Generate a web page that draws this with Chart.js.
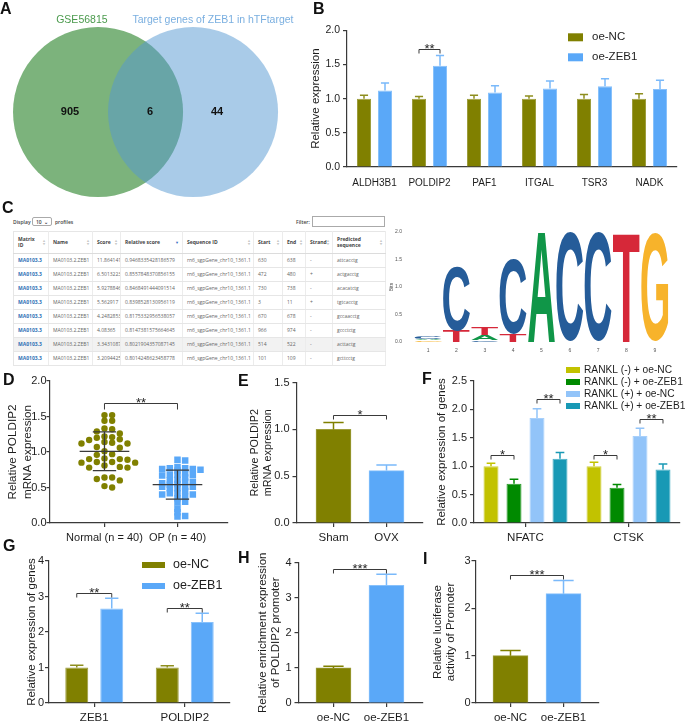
<!DOCTYPE html>
<html>
<head>
<meta charset="utf-8">
<title>ZEB1 / POLDIP2 figure</title>
<script src="https://cdn.jsdelivr.net/npm/chart.js@4.4.1/dist/chart.umd.min.js"></script>
<style>
  body { margin: 0; width: 685px; height: 723px; position: relative; overflow: hidden; background: #fff; font-family: "Liberation Sans", Arial, sans-serif; }
  .panel { position: absolute; }
  .tag { position: absolute; font: bold 16px/16px "Liberation Sans", Arial, sans-serif; color: #111; }
  #tfbar { position: absolute; left: 13px; top: 216px; width: 372px; height: 12px; font: 600 5px/12px "Open Sans", sans-serif; color: #444; }
  #tfbar span { position: absolute; top: 0; }
  #tfbar .sel { top: 1px; height: 9px; width: 20px; border: 1px solid #aaa; border-radius: 2px; line-height: 9px; padding-left: 3px; box-sizing: border-box; }
  #tfbar .inp { top: 0; height: 11px; width: 73px; border: 1px solid #aaa; box-sizing: border-box; }
  #tf { position: absolute; left: 13px; top: 231px; width: 372px; border-collapse: collapse; table-layout: fixed; font: 5px/1.15 "Open Sans", sans-serif; color: #666; border: 1px solid #e6e6e6; }
  #tf th { height: 21px; font-weight: 700; color: #444; text-align: left; padding: 0 0 0 4px; border-right: 1px solid #ececec; border-bottom: 1px solid #dcdcdc; position: relative; vertical-align: middle; }
  #tf td { height: 13px; padding: 0 0 0 4px; border-right: 1px solid #ececec; border-bottom: 1px solid #e6e6e6; white-space: nowrap; overflow: hidden; }
  #tf td.id { color: #2f6fb5; font-weight: 700; }
  #tf tr.hl td { background: #f2f2f2; }
  #tf .srt { position: absolute; right: 3px; top: 7px; font-size: 4px; line-height: 3px; color: #c8c8c8; }
  #tf .srt.on { color: #3b6fc4; top: 9px; }
</style>
</head>
<body>

<div id="tfbar">
  <span style="left:0">Display</span>
  <span class="sel" style="left:19px">10 &nbsp;&#8964;</span>
  <span style="left:42px">profiles</span>
  <span style="left:283px">Filter:</span>
  <span class="inp" style="left:299px"></span>
</div>
<table id="tf"></table>

<script>
// ---------- data ----------

// A  Venn
const vennSets = ['GSE56815', 'Target genes of ZEB1 in hTFtarget'];
const vennCounts = [905, 6, 44];

// B  candidate genes
const bGenes = ['ALDH3B1', 'POLDIP2', 'PAF1', 'ITGAL', 'TSR3', 'NADK'];
const bSeries = ['oe-NC', 'oe-ZEB1'];
const bNC = [1.0, 1.0, 1.0, 1.0, 1.0, 1.0];
const bNCErr = [0.05, 0.03, 0.05, 0.04, 0.06, 0.07];
const bZEB1 = [1.12, 1.48, 1.09, 1.15, 1.18, 1.14];
const bZEB1Err = [0.11, 0.15, 0.10, 0.11, 0.11, 0.13];

// C  JASPAR table
const tfHead = ['Matrix\nID', 'Name', 'Score', 'Relative score', 'Sequence ID', 'Start', 'End', 'Strand', 'Predicted\nsequence'];
const tfMatrix = ['MA0103.3', 'MA0103.3', 'MA0103.3', 'MA0103.3', 'MA0103.3', 'MA0103.3', 'MA0103.3', 'MA0103.3'];
const tfName = ['MA0103.2.ZEB1', 'MA0103.2.ZEB1', 'MA0103.2.ZEB1', 'MA0103.2.ZEB1', 'MA0103.2.ZEB1', 'MA0103.2.ZEB1', 'MA0103.2.ZEB1', 'MA0103.2.ZEB1'];
const tfScore = ['11.864141', '6.5013223', '5.9278846', '5.562917', '4.2482853', '4.08365', '3.3431087', '3.2094425'];
const tfRel = ['0.9468335428186579', '0.8557848370856155', '0.8468491444091514', '0.8398528130956119', '0.8175332956538057', '0.8147381575664645', '0.8021904357087145', '0.8014248623458778'];
const tfSeqId = ['rn6_sgpGene_chr10_1361.1', 'rn6_sgpGene_chr10_1361.1', 'rn6_sgpGene_chr10_1361.1', 'rn6_sgpGene_chr10_1361.1', 'rn6_sgpGene_chr10_1361.1', 'rn6_sgpGene_chr10_1361.1', 'rn6_sgpGene_chr10_1361.1', 'rn6_sgpGene_chr10_1361.1'];
const tfStart = ['630', '472', '730', '3', '670', '966', '514', '101'];
const tfEnd = ['638', '480', '738', '11', '678', '974', '522', '109'];
const tfStrand = ['-', '+', '-', '+', '-', '-', '-', '-'];
const tfPred = ['attcacctg', 'actgacctg', 'acacatctg', 'tgtcacctg', 'gccaacctg', 'gccctctg', 'acttactg', 'gcttcctg'];

// C  motif logo (bits per stacked layer, bottom first)
const logoPos = ['1', '2', '3', '4', '5', '6', '7', '8', '9'];
const logoL1Letters = ['G', 'T', 'C', 'T', 'A', 'C', 'C', 'T', 'G'];
const logoL1Bits = [0.03, 0.20, 0.03, 0.15, 2.00, 1.99, 1.98, 1.98, 1.97];
const logoL2Letters = ['A', 'C', 'A', 'C', '', '', '', '', ''];
const logoL2Bits = [0.03, 1.17, 0.09, 1.36, 0, 0, 0, 0, 0];
const logoL3Letters = ['C', '', 'T', '', '', '', '', '', ''];
const logoL3Bits = [0.05, 0, 0.14, 0, 0, 0, 0, 0, 0];

// D  clinical samples
const dGroups = ['Normal (n = 40)', 'OP (n = 40)'];
const dNormal = [1.52, 1.52, 1.44, 1.44, 1.33, 1.32, 1.29, 1.26, 1.22, 1.21,
                 1.20, 1.18, 1.17, 1.14, 1.13, 1.12, 1.12, 1.07, 1.06, 1.01,
                 0.97, 0.96, 0.91, 0.90, 0.90, 0.89, 0.86, 0.86, 0.85, 0.85,
                 0.81, 0.79, 0.78, 0.78, 0.64, 0.64, 0.62, 0.60, 0.52, 0.50];
const dOP = [0.89, 0.88, 0.79, 0.77, 0.77, 0.76, 0.76, 0.75, 0.74, 0.70,
             0.68, 0.68, 0.68, 0.67, 0.64, 0.61, 0.60, 0.58, 0.58, 0.56,
             0.55, 0.54, 0.51, 0.51, 0.51, 0.49, 0.49, 0.45, 0.42, 0.42,
             0.40, 0.40, 0.37, 0.35, 0.30, 0.29, 0.20, 0.15, 0.10, 0.09];

// E  OVX rats
const eGroups = ['Sham', 'OVX'];
const eMean = [1.0, 0.56];
const eErr = [0.075, 0.06];

// F  osteoclast markers
const fGenes = ['NFATC', 'CTSK'];
const fSeries = ['RANKL (-) + oe-NC', 'RANKL (-) + oe-ZEB1', 'RANKL (+) + oe-NC', 'RANKL (+) + oe-ZEB1'];
const fMinusNC = [1.0, 1.0];
const fMinusNCErr = [0.05, 0.07];
const fMinusZEB1 = [0.69, 0.62];
const fMinusZEB1Err = [0.08, 0.06];
const fPlusNC = [1.85, 1.53];
const fPlusNCErr = [0.16, 0.14];
const fPlusZEB1 = [1.13, 0.94];
const fPlusZEB1Err = [0.11, 0.10];

// G
const gGenes = ['ZEB1', 'POLDIP2'];
const gNC = [1.0, 1.0];
const gNCErr = [0.06, 0.05];
const gZEB1 = [2.66, 2.28];
const gZEB1Err = [0.29, 0.25];

// H  ChIP
const hGroups = ['oe-NC', 'oe-ZEB1'];
const hMean = [1.0, 3.35];
const hErr = [0.05, 0.32];

// I  luciferase
const iGroups = ['oe-NC', 'oe-ZEB1'];
const iMean = [1.0, 2.31];
const iErr = [0.11, 0.28];

// ---------- styles ----------
const INK = '#1e1e1e';
const AX = '#3a3a3a';
const OLIVE = '#808000', OLIVE_EDGE = '#9d9d3c', OLIVE_ERR = '#8e8e1e';
const BLUE = '#5aa8f8', BLUE_EDGE = '#88c1fb', BLUE_ERR = '#7ab9fa';
const F_COL = ['#c2c200', '#008a00', '#92c4f9', '#1899b5'];
const F_EDGE = ['#cfcf40', '#2a9a2a', '#a8d0fb', '#45aec5'];
const LOGO_COL = { A: '#109648', C: '#255c99', G: '#f7b32b', T: '#d62839' };

Chart.defaults.font.family = '"Liberation Sans", Arial, sans-serif';
Chart.defaults.color = INK;
Chart.defaults.animation = false;
Chart.defaults.layout.autoPadding = false;
Chart.defaults.plugins.legend.display = false;
Chart.defaults.plugins.tooltip.enabled = false;

// ---------- plugins ----------
const errorBars = {
  id: 'errorBars',
  afterDatasetsDraw(chart, args, o) {
    const ctx = chart.ctx, y = chart.scales.y;
    chart.data.datasets.forEach((ds, i) => {
      if (!ds.errors) return;
      const meta = chart.getDatasetMeta(i);
      meta.data.forEach((bar, j) => {
        const v = meta.controller.getParsed(j).y;
        const top = y.getPixelForValue(v + ds.errors[j]);
        const half = bar.width * (o.cap || 0.29);
        ctx.save();
        ctx.strokeStyle = Array.isArray(ds.errorColor) ? ds.errorColor[j] : ds.errorColor;
        ctx.lineWidth = o.width || 1.5;
        ctx.beginPath();
        ctx.moveTo(bar.x, bar.y);
        ctx.lineTo(bar.x, top);
        ctx.moveTo(bar.x - half, top);
        ctx.lineTo(bar.x + half, top);
        ctx.stroke();
        ctx.restore();
      });
    });
  }
};

const sigMarks = {
  id: 'sigMarks',
  afterDatasetsDraw(chart, args, o) {
    if (!o.items) return;
    const ctx = chart.ctx, x = chart.scales.x, y = chart.scales.y;
    const px = p => Array.isArray(p) ? chart.getDatasetMeta(p[0]).data[p[1]].x : x.getPixelForValue(p);
    const leg = o.leg || 4;
    o.items.forEach(it => {
      const x1 = px(it.from), x2 = px(it.to), yy = Math.round(y.getPixelForValue(it.y)) + 0.5;
      ctx.save();
      ctx.strokeStyle = AX;
      ctx.lineWidth = 1;
      ctx.beginPath();
      ctx.moveTo(x1, yy + leg);
      ctx.lineTo(x1, yy);
      ctx.lineTo(x2, yy);
      ctx.lineTo(x2, yy + leg);
      ctx.stroke();
      ctx.fillStyle = INK;
      ctx.font = (o.size || 14) + 'px "Liberation Sans", Arial, sans-serif';
      ctx.textAlign = 'center';
      ctx.textBaseline = 'alphabetic';
      ctx.fillText(it.text, (x1 + x2) / 2, yy + 3);
      ctx.restore();
    });
  }
};

const boxLegend = {
  id: 'boxLegend',
  afterDraw(chart, args, o) {
    if (!o.display) return;
    const { ctx, chartArea } = chart;
    chart.data.datasets.forEach((ds, i) => {
      const cy = chartArea.top + o.y + i * o.row;
      const bx = chartArea.left + o.x;
      ctx.save();
      ctx.fillStyle = ds.backgroundColor;
      ctx.fillRect(bx, cy - o.boxH / 2, o.boxW, o.boxH);
      ctx.fillStyle = INK;
      ctx.font = o.size + 'px "Liberation Sans", Arial, sans-serif';
      ctx.textAlign = 'left';
      ctx.textBaseline = 'middle';
      ctx.fillText(ds.label, bx + o.textX, cy);
      ctx.restore();
    });
  }
};

const meanSd = {
  id: 'meanSd',
  afterDatasetsDraw(chart, args, o) {
    const { ctx, scales: { x, y } } = chart;
    chart.data.datasets.forEach(ds => {
      const vals = ds.data.map(p => p.y);
      const m = vals.reduce((a, b) => a + b, 0) / vals.length;
      const sd = Math.sqrt(vals.reduce((a, b) => a + (b - m) * (b - m), 0) / (vals.length - 1));
      const cx = x.getPixelForValue(ds.center);
      const mw = x.getPixelForValue(ds.center + o.meanHalf) - cx;
      const sw = x.getPixelForValue(ds.center + o.sdHalf) - cx;
      const ym = y.getPixelForValue(m), yh = y.getPixelForValue(m + sd), yl = y.getPixelForValue(m - sd);
      ctx.save();
      ctx.strokeStyle = AX;
      ctx.lineWidth = 1.3;
      ctx.beginPath();
      ctx.moveTo(cx - mw, ym); ctx.lineTo(cx + mw, ym);
      ctx.moveTo(cx - sw, yh); ctx.lineTo(cx + sw, yh);
      ctx.moveTo(cx - sw, yl); ctx.lineTo(cx + sw, yl);
      ctx.moveTo(cx, yh); ctx.lineTo(cx, yl);
      ctx.stroke();
      ctx.restore();
    });
  }
};

const vennText = {
  id: 'vennText',
  afterDatasetsDraw(chart, args, o) {
    const { ctx, scales: { x, y } } = chart;
    ctx.save();
    ctx.textAlign = 'center';
    ctx.textBaseline = 'middle';
    ctx.font = '10.5px "Liberation Sans", Arial, sans-serif';
    vennSets.forEach((name, i) => {
      ctx.fillStyle = o.nameColors[i];
      ctx.fillText(name, x.getPixelForValue(o.nameX[i]), y.getPixelForValue(o.nameY));
    });
    ctx.font = 'bold 11px "Liberation Sans", Arial, sans-serif';
    ctx.fillStyle = '#111';
    vennCounts.forEach((n, i) => ctx.fillText(String(n), x.getPixelForValue(o.countX[i]), y.getPixelForValue(0)));
    ctx.restore();
  }
};

const logoLetters = {
  id: 'logoLetters',
  afterDatasetsDraw(chart, args, o) {
    const ctx = chart.ctx;
    chart.data.datasets.forEach((ds, i) => {
      chart.getDatasetMeta(i).data.forEach((bar, j) => {
        const ch = ds.letters[j];
        const h = bar.base - bar.y;
        if (!ch || h <= 0.3) return;
        ctx.save();
        ctx.font = 'bold 100px "Liberation Sans", Arial, sans-serif';
        const m = ctx.measureText(ch);
        const gw = m.actualBoundingBoxLeft + m.actualBoundingBoxRight;
        const gh = m.actualBoundingBoxAscent + m.actualBoundingBoxDescent;
        ctx.translate(bar.x - bar.width / 2, bar.y);
        ctx.scale(bar.width / gw, h / gh);
        ctx.fillStyle = LOGO_COL[ch];
        ctx.fillText(ch, m.actualBoundingBoxLeft, m.actualBoundingBoxAscent);
        ctx.restore();
      });
    });
  }
};

// ---------- helpers ----------
function panelBox(f) {
  return { x: f.left, y: f.t - f.padT, w: f.r + f.padR - f.left, h: f.b + f.xH - f.t + f.padT };
}

function addChart(f, config) {
  const div = document.createElement('div');
  div.className = 'panel';
  const fr = panelBox(f);
  Object.assign(div.style, { left: fr.x + 'px', top: fr.y + 'px', width: fr.w + 'px', height: fr.h + 'px' });
  const cv = document.createElement('canvas');
  div.appendChild(cv);
  document.body.appendChild(div);
  config.options = config.options || {};
  config.options.responsive = true;
  config.options.maintainAspectRatio = false;
  config.options.layout = { padding: { left: 0, top: f.padT, right: f.padR, bottom: 0 }, autoPadding: false };
  return new Chart(cv, config);
}

function yAx(f, min, max, step, dec, title, size, lh, tickSize, pad, tickLen) {
  return {
    min, max,
    afterFit: s => { s.width = f.l - f.left; },
    ticks: { stepSize: step, callback: v => v.toFixed(dec), font: { size: tickSize || 11 }, color: INK, padding: pad === undefined ? 3 : pad },
    grid: { drawOnChartArea: false, drawTicks: true, tickLength: tickLen || 4, color: AX, lineWidth: 1.2 },
    border: { display: true, color: AX, width: 1.2 },
    title: { display: true, text: title, padding: 0, color: INK, font: { size: size, lineHeight: lh } }
  };
}

function xCat(f, size, pad, tickColor) {
  return {
    afterFit: s => { s.height = f.xH; },
    grid: { drawOnChartArea: false, offset: false, drawTicks: true, tickLength: 4, color: tickColor || AX, lineWidth: 1.2 },
    border: { display: true, color: AX, width: 1.2 },
    ticks: { font: { size }, color: INK, padding: pad, maxRotation: 0, autoSkip: false }
  };
}

function xLin(f, min, max, labels, size, pad) {
  return Object.assign(xCat(f, size, pad), {
    type: 'linear', min, max, offset: false,
    afterBuildTicks: s => { s.ticks = labels.map((_, i) => ({ value: i })); },
    ticks: { font: { size }, color: INK, padding: pad, maxRotation: 0, autoSkip: false, callback: v => labels[v] }
  });
}

// simple column beeswarm, offsets in x units
function swarm(values, center, unit, gap) {
  const placed = [];
  const out = new Array(values.length);
  const order = values.map((v, i) => i).sort((a, b) => values[b] - values[a]);
  order.forEach(i => {
    const v = values[i];
    for (let k = 0; k < 40; k++) {
      const col = k === 0 ? 0 : (k % 2 ? (k + 1) / 2 : -k / 2);
      if (!placed.some(p => p.col === col && Math.abs(p.v - v) < gap)) {
        placed.push({ col, v });
        out[i] = { x: center + col * unit, y: v };
        break;
      }
    }
  });
  return out;
}

// ---------- C table ----------
const colW = [35, 44, 28, 62, 71, 29, 23, 27, 53];
let th = '<colgroup>' + colW.map(w => '<col style="width:' + w + 'px">').join('') + '</colgroup><tr>';
tfHead.forEach((h, i) => {
  th += '<th>' + h.replace('\n', '<br>') + (i === 3 ? '<span class="srt on">&#9660;</span>' : '<span class="srt">&#9652;<br>&#9662;</span>') + '</th>';
});
th += '</tr>';
tfScore.forEach((s, r) => {
  const cells = [tfMatrix[r], tfName[r], tfScore[r], tfRel[r], tfSeqId[r], tfStart[r], tfEnd[r], tfStrand[r], tfPred[r]];
  th += '<tr' + (r === 6 ? ' class="hl"' : '') + '>' + cells.map((c, k) => '<td' + (k === 0 ? ' class="id"' : '') + '>' + c + '</td>').join('') + '</tr>';
});
document.getElementById('tf').innerHTML = th;

// ---------- A Venn ----------
const fA = { left: 0, l: 0, t: 0, r: 300, b: 200, padT: 0, padR: 0, xH: 0 };
const vennX = [-1.032, 2.126], vennY = [-0.926, 1.179], vennR = 0.895;
const vennPx = panelBox(fA).w / (vennX[1] - vennX[0]);
addChart(fA, {
  type: 'bubble',
  data: { datasets: [{
    data: [{ x: 0, y: 0, r: vennR * vennPx }, { x: 1, y: 0, r: vennR * vennPx }],
    backgroundColor: ['rgb(124,179,124)', 'rgba(83,151,209,0.5)'],
    borderWidth: 0,
    hoverRadius: 0
  }] },
  options: {
    scales: { x: { display: false, min: vennX[0], max: vennX[1] }, y: { display: false, min: vennY[0], max: vennY[1] } },
    plugins: { vennText: { nameX: [-0.17, 1.21], nameY: 0.968, countX: [-0.295, 0.547, 1.253], nameColors: ['#4a9a4c', '#7aafe0'] } }
  },
  plugins: [vennText]
});

// ---------- B ----------
const fB = { left: 309, l: 347, t: 29, r: 677, b: 167, padT: 8, padR: 6, xH: 24 };
addChart(fB, {
  type: 'bar',
  data: { labels: bGenes, datasets: [
    { label: bSeries[0], data: bNC, errors: bNCErr, backgroundColor: OLIVE, borderColor: OLIVE_EDGE, borderWidth: 1, errorColor: OLIVE_ERR },
    { label: bSeries[1], data: bZEB1, errors: bZEB1Err, backgroundColor: BLUE, borderColor: BLUE_EDGE, borderWidth: 1, errorColor: BLUE_ERR }
  ] },
  options: {
    datasets: { bar: { categoryPercentage: 0.764, barPercentage: 0.667 } },
    scales: { x: xCat(fB, 10, 6, 'rgba(0,0,0,0)'), y: yAx(fB, 0, 2, 0.5, 1, 'Relative expression', 11.5, 1.2, 10.5) },
    plugins: {
      errorBars: { cap: 0.29, width: 1.5 },
      sigMarks: { items: [{ from: [0, 1], to: [1, 1], y: 1.725, text: '**' }], leg: 4, size: 13 },
      boxLegend: { display: true, x: 221, y: 7, row: 20, boxW: 15, boxH: 8, textX: 24, size: 11.5 }
    }
  },
  plugins: [errorBars, sigMarks, boxLegend]
});

// ---------- C logo ----------
const fLogo = { left: 389, l: 414, t: 223, r: 669, b: 343, padT: 6, padR: 6, xH: 14 };
addChart(fLogo, {
  type: 'bar',
  data: { labels: logoPos, datasets: [
    { data: logoL1Bits, letters: logoL1Letters, backgroundColor: 'rgba(0,0,0,0)', borderWidth: 0 },
    { data: logoL2Bits, letters: logoL2Letters, backgroundColor: 'rgba(0,0,0,0)', borderWidth: 0 },
    { data: logoL3Bits, letters: logoL3Letters, backgroundColor: 'rgba(0,0,0,0)', borderWidth: 0 }
  ] },
  options: {
    datasets: { bar: { categoryPercentage: 1, barPercentage: 0.95 } },
    scales: {
      x: { stacked: true, afterFit: s => { s.height = fLogo.xH; }, grid: { display: false, drawTicks: false }, border: { display: false },
           ticks: { font: { size: 5 }, color: '#555', padding: 6 } },
      y: { stacked: true, min: 0, max: 2, afterFit: s => { s.width = fLogo.l - fLogo.left; },
           grid: { display: false, drawTicks: false }, border: { display: false },
           ticks: { stepSize: 0.5, callback: v => v.toFixed(1), font: { size: 5 }, color: '#555', padding: 12 },
           title: { display: true, text: 'Bits', padding: 0, color: '#444', font: { size: 5, lineHeight: 1.2 } } }
    }
  },
  plugins: [logoLetters]
});

// ---------- D ----------
const fD = { left: 4.5, l: 49, t: 381, r: 227, b: 523, padT: 8, padR: 4, xH: 24 };
addChart(fD, {
  type: 'scatter',
  data: { datasets: [
    { label: dGroups[0], data: swarm(dNormal, 0, 0.105, 0.08), center: 0, pointStyle: 'circle', pointRadius: 3.2, pointHoverRadius: 3.2, backgroundColor: OLIVE, borderWidth: 0 },
    { label: dGroups[1], data: swarm(dOP, 1, 0.105, 0.05), center: 1, pointStyle: 'rect', pointRadius: 4.6, pointHoverRadius: 4.6, backgroundColor: BLUE, borderWidth: 0 }
  ] },
  options: {
    scales: {
      x: xLin(fD, -0.753, 1.685, dGroups, 11, 4),
      y: yAx(fD, 0, 2, 0.5, 1, ['Relative POLDIP2', 'mRNA expression'], 11.7, 1.28, 11, 0, 3)
    },
    plugins: {
      meanSd: { meanHalf: 0.34, sdHalf: 0.16 },
      sigMarks: { items: [{ from: 0, to: 1, y: 1.69, text: '**' }], leg: 6, size: 13 }
    }
  },
  plugins: [meanSd, sigMarks]
});

// ---------- E ----------
const fE = { left: 248.5, l: 296, t: 381, r: 422, b: 523, padT: 8, padR: 4, xH: 24 };
addChart(fE, {
  type: 'bar',
  data: { datasets: [{
    data: eMean.map((v, i) => ({ x: i, y: v })), errors: eErr,
    backgroundColor: [OLIVE, BLUE], borderColor: [OLIVE_EDGE, BLUE_EDGE], borderWidth: 1, errorColor: [OLIVE, BLUE_ERR], barThickness: 35
  }] },
  options: {
    scales: {
      x: xLin(fE, -0.698, 1.679, eGroups, 11.5, 4),
      y: yAx(fE, 0, 1.5, 0.5, 1, ['Relative POLDIP2', 'mRNA expression'], 10.8, 1.2, 11)
    },
    plugins: {
      errorBars: { cap: 0.29, width: 1.5 },
      sigMarks: { items: [{ from: [0, 0], to: [0, 1], y: 1.15, text: '*' }], leg: 4, size: 13 }
    }
  },
  plugins: [errorBars, sigMarks]
});

// ---------- F ----------
const fF = { left: 435, l: 474, t: 381, r: 680, b: 523, padT: 16, padR: 5, xH: 24 };
const fData = [fMinusNC, fMinusZEB1, fPlusNC, fPlusZEB1];
const fErrs = [fMinusNCErr, fMinusZEB1Err, fPlusNCErr, fPlusZEB1Err];
addChart(fF, {
  type: 'bar',
  data: { labels: fGenes, datasets: fSeries.map((s, k) => ({
    label: s, data: fData[k], errors: fErrs[k],
    backgroundColor: F_COL[k], borderColor: F_EDGE[k], borderWidth: 1, errorColor: F_COL[k]
  })) },
  options: {
    datasets: { bar: { categoryPercentage: 0.893, barPercentage: 0.652 } },
    scales: { x: xCat(fF, 11.5, 4), y: yAx(fF, 0, 2.5, 0.5, 1, 'Relative expression of genes', 11.5, 1.2, 11) },
    plugins: {
      errorBars: { cap: 0.29, width: 1.5 },
      sigMarks: { items: [
        { from: [0, 0], to: [1, 0], y: 1.20, text: '*' },
        { from: [2, 0], to: [3, 0], y: 2.18, text: '**' },
        { from: [0, 1], to: [1, 1], y: 1.20, text: '*' },
        { from: [2, 1], to: [3, 1], y: 1.83, text: '**' }
      ], leg: 4, size: 13 },
      boxLegend: { display: true, x: 92, y: -11, row: 12, boxW: 14, boxH: 6, textX: 18, size: 10.2 }
    }
  },
  plugins: [errorBars, sigMarks, boxLegend]
});

// ---------- G ----------
const fG = { left: 25, l: 49, t: 561, r: 230, b: 703, padT: 8, padR: 4, xH: 20 };
addChart(fG, {
  type: 'bar',
  data: { labels: gGenes, datasets: [
    { label: bSeries[0], data: gNC, errors: gNCErr, backgroundColor: OLIVE, borderColor: OLIVE_EDGE, borderWidth: 1, errorColor: OLIVE_ERR },
    { label: bSeries[1], data: gZEB1, errors: gZEB1Err, backgroundColor: BLUE, borderColor: BLUE_EDGE, borderWidth: 1, errorColor: BLUE_ERR }
  ] },
  options: {
    datasets: { bar: { categoryPercentage: 0.773, barPercentage: 0.657 } },
    scales: { x: xCat(fG, 11.5, 4), y: yAx(fG, 0, 4, 1, 0, 'Relative expression of genes', 11.5, 1.2, 11, 1) },
    plugins: {
      errorBars: { cap: 0.29, width: 1.5 },
      sigMarks: { items: [
        { from: [0, 0], to: [1, 0], y: 3.10, text: '**' },
        { from: [0, 1], to: [1, 1], y: 2.68, text: '**' }
      ], leg: 4, size: 13 },
      boxLegend: { display: true, x: 93, y: 4, row: 21, boxW: 23, boxH: 6, textX: 31, size: 12.5 }
    }
  },
  plugins: [errorBars, sigMarks, boxLegend]
});

// ---------- H ----------
const fH = { left: 255.5, l: 298, t: 561, r: 422, b: 703, padT: 8, padR: 4, xH: 20 };
addChart(fH, {
  type: 'bar',
  data: { datasets: [{
    data: hMean.map((v, i) => ({ x: i, y: v })), errors: hErr,
    backgroundColor: [OLIVE, BLUE], borderColor: [OLIVE_EDGE, BLUE_EDGE], borderWidth: 1, errorColor: [OLIVE, BLUE_ERR], barThickness: 35
  }] },
  options: {
    scales: {
      x: xLin(fH, -0.66, 1.68, hGroups, 11.5, 4),
      y: yAx(fH, 0, 4, 1, 0, ['Relative enrichment expression', 'of POLDIP2 promoter'], 11.5, 1.13, 11)
    },
    plugins: {
      errorBars: { cap: 0.29, width: 1.5 },
      sigMarks: { items: [{ from: [0, 0], to: [0, 1], y: 3.83, text: '***' }], leg: 4, size: 13 }
    }
  },
  plugins: [errorBars, sigMarks]
});

// ---------- I ----------
const fI = { left: 430.5, l: 475, t: 561, r: 598, b: 703, padT: 8, padR: 4, xH: 20 };
addChart(fI, {
  type: 'bar',
  data: { datasets: [{
    data: iMean.map((v, i) => ({ x: i, y: v })), errors: iErr,
    backgroundColor: [OLIVE, BLUE], borderColor: [OLIVE_EDGE, BLUE_EDGE], borderWidth: 1, errorColor: [OLIVE, BLUE_ERR], barThickness: 35
  }] },
  options: {
    scales: {
      x: xLin(fI, -0.66, 1.66, iGroups, 11.5, 4),
      y: yAx(fI, 0, 3, 1, 0, ['Relative luciferase', 'activity of Promoter'], 11.5, 1.13, 11, 1)
    },
    plugins: {
      errorBars: { cap: 0.29, width: 1.5 },
      sigMarks: { items: [{ from: [0, 0], to: [0, 1], y: 2.70, text: '***' }], leg: 4, size: 13 }
    }
  },
  plugins: [errorBars, sigMarks]
});

// ---------- panel letters ----------
[['A', 0, 1], ['B', 313, 1], ['C', 2, 200], ['D', 3, 372], ['E', 238, 373], ['F', 422, 371], ['G', 3, 538], ['H', 238, 550], ['I', 423, 551]]
  .forEach(([t, x, y]) => {
    const d = document.createElement('div');
    d.className = 'tag';
    d.style.left = x + 'px';
    d.style.top = y + 'px';
    d.textContent = t;
    document.body.appendChild(d);
  });
</script>
</body>
</html>
